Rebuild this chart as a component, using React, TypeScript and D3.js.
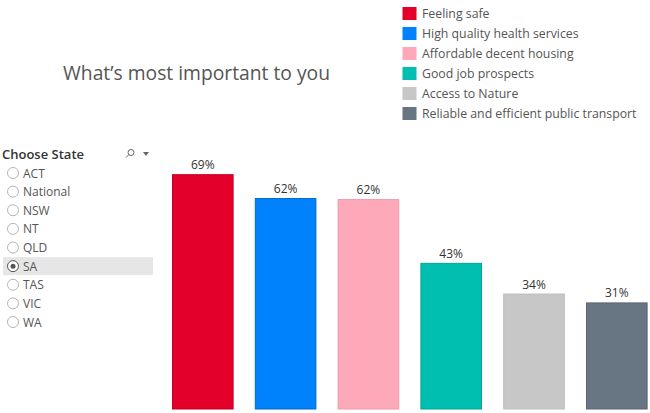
import React from "react";
import * as d3 from "d3";

const categories = [
  "Feeling safe",
  "High quality health services",
  "Affordable decent housing",
  "Good job prospects",
  "Access to Nature",
  "Reliable and efficient public transport",
];
const values = [69, 62, 61.7, 43, 34, 31.4];
const colors = ["#E3002B", "#0082FC", "#FDA9BA", "#00BFB0", "#C8C7C8", "#687582"];
const borders = ["#C4001F", "#0069D0", "#F09AAB", "#00A597", "#BDBCBD", "#5A6671"];
const states = ["ACT", "National", "NSW", "NT", "QLD", "SA", "TAS", "VIC", "WA"];
const selectedState = "SA";
const title = "What\u2019s most important to you";

const W = 650;
const H = 413;
const FONT = "'Open Sans', 'Noto Sans', sans-serif";

export default function App() {
  const x = d3.scaleBand<string>().domain(categories).range([161.4, 658.2]).paddingInner(0.256).paddingOuter(0.128);
  const y = d3.scaleLinear().domain([0, 76]).range([409.5, 150.3]);
  const legendY = d3.scalePoint<string>().domain(categories).range([13.5, 113.5]);
  const stateY = d3.scalePoint<string>().domain(states).range([173, 322]);

  return (
    <svg width={W} height={H} style={{ position: "fixed", left: 0, top: 0, background: "#fff" }} fontFamily={FONT}>
      <text x={63} y={80} fontSize={19.3} fill="#555">{title}</text>

      {categories.map((c, i) => (
        <g key={c}>
          <rect x={402.5} y={legendY(c)! - 6.5} width={14} height={13} fill={colors[i]} />
          <text x={422} y={legendY(c)! + 4.3} fontSize={12.3} fill="#555">{c}</text>
        </g>
      ))}

      <text x={2} y={159} fontSize={13} fontWeight={600} fill="#333">Choose State</text>
      <g stroke="#666" fill="none" strokeWidth={1}>
        <circle cx={131} cy={152.5} r={3} />
        <line x1={128.8} y1={154.7} x2={126} y2={157.5} />
      </g>
      <path d="M143,152 L149,152 L146,156 Z" fill="#666" />

      {states.map((s) => {
        const cy = stateY(s)!;
        const sel = s === selectedState;
        return (
          <g key={s}>
            {sel && <rect x={3} y={cy - 9} width={150} height={18} fill="#E6E6E6" />}
            <circle cx={13} cy={cy} r={5.5} fill="#fff" stroke={sel ? "#555" : "#B5B5B5"} strokeWidth={1} />
            {sel && <circle cx={13} cy={cy} r={2.5} fill="#555" />}
            <text x={23} y={cy + 4.5} fontSize={12} fill="#555">{s}</text>
          </g>
        );
      })}

      {categories.map((c, i) => (
        <g key={c}>
          <rect
            x={x(c)! + 0.5}
            y={y(values[i]) + 0.5}
            width={x.bandwidth() - 1}
            height={y(0) - y(values[i]) - 1}
            fill={colors[i]}
            stroke={borders[i]}
            strokeWidth={1}
          />
          <text x={x(c)! + x.bandwidth() / 2} y={y(values[i]) - 5} textAnchor="middle" fontSize={12} fill="#333">
            {Math.round(values[i])}%
          </text>
        </g>
      ))}
    </svg>
  );
}
